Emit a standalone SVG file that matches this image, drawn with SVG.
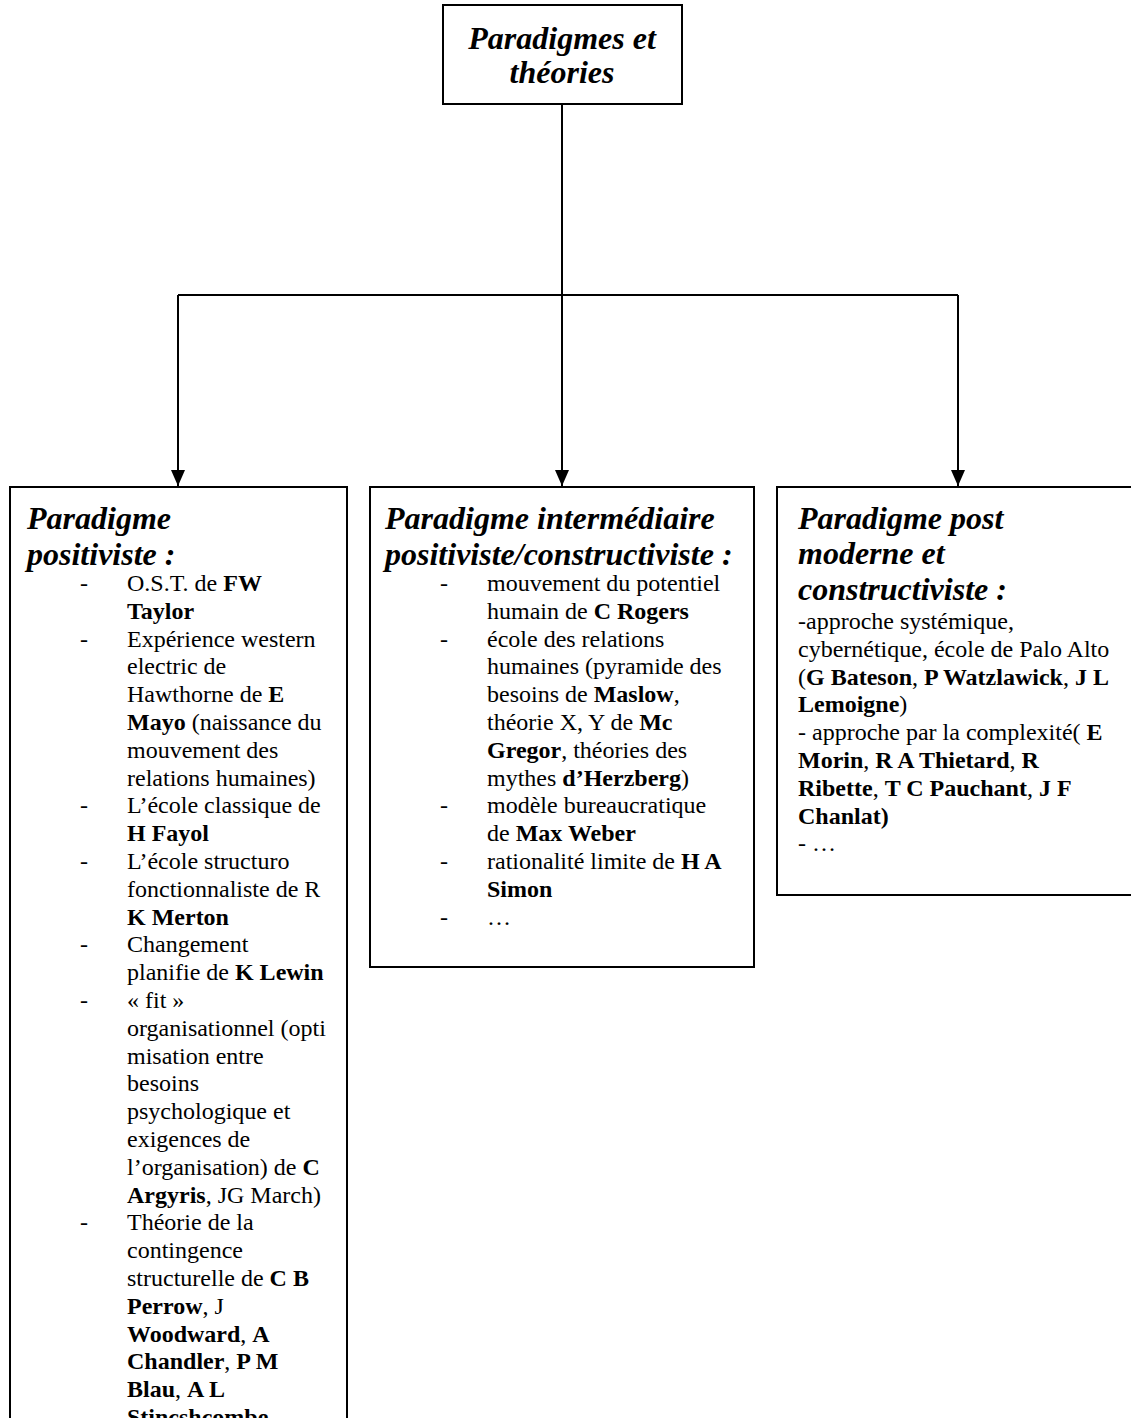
<svg xmlns="http://www.w3.org/2000/svg" width="1131" height="1418" viewBox="0 0 1131 1418">
  <style>
    text { font-family: "Liberation Serif", "Times New Roman", serif; fill: #000; }
    .title { font-size: 32px; font-weight: bold; font-style: italic; }
    .body { font-size: 24px; }
    .b { font-weight: bold; }
    .box { fill: #fff; stroke: #000; stroke-width: 2; }
    .conn { fill: none; stroke: #000; stroke-width: 2; }
  </style>
  <defs>
    <marker id="arrow" viewBox="0 0 16 14" refX="16" refY="7" markerWidth="16" markerHeight="14" markerUnits="userSpaceOnUse" orient="auto">
      <path d="M0,0 L16,7 L0,14 Z" fill="#000"/>
    </marker>
  </defs>
  <rect width="1131" height="1418" fill="#fff"/>

  <!-- connectors -->
  <g id="connectors">
    <path class="conn" d="M562,104 V295"/>
    <path class="conn" d="M178,295 H958"/>
    <path class="conn" d="M178,295 V486" marker-end="url(#arrow)"/>
    <path class="conn" d="M562,295 V486" marker-end="url(#arrow)"/>
    <path class="conn" d="M958,295 V486" marker-end="url(#arrow)"/>
  </g>

  <!-- root -->
  <g id="root">
    <rect class="box" x="443" y="5" width="239" height="99"/>
    <text class="title" x="562" y="49" text-anchor="middle">Paradigmes et</text>
    <text class="title" x="562" y="83" text-anchor="middle">théories</text>
  </g>

  <!-- positivist paradigm -->
  <g id="positiviste">
    <rect class="box" x="10" y="487" width="337" height="1000"/>
    <text class="title" x="27" y="529">Paradigme</text>
    <text class="title" x="27" y="565">positiviste :</text>
    <g class="body">
      <text x="80" y="591">-</text>
      <text x="127" y="591">O.S.T. de <tspan class="b">FW</tspan></text>
      <text x="127" y="618.8" class="b">Taylor</text>
      <text x="80" y="646.6">-</text>
      <text x="127" y="646.6">Expérience western</text>
      <text x="127" y="674.4">electric de</text>
      <text x="127" y="702.2">Hawthorne de <tspan class="b">E</tspan></text>
      <text x="127" y="730"><tspan class="b">Mayo</tspan> (naissance du</text>
      <text x="127" y="757.8">mouvement des</text>
      <text x="127" y="785.6">relations humaines)</text>
      <text x="80" y="813.4">-</text>
      <text x="127" y="813.4">L’école classique de</text>
      <text x="127" y="841.2" class="b">H Fayol</text>
      <text x="80" y="869">-</text>
      <text x="127" y="869">L’école structuro</text>
      <text x="127" y="896.8">fonctionnaliste de R</text>
      <text x="127" y="924.6" class="b">K Merton</text>
      <text x="80" y="952.4">-</text>
      <text x="127" y="952.4">Changement</text>
      <text x="127" y="980.2">planifie de <tspan class="b">K Lewin</tspan></text>
      <text x="80" y="1008">-</text>
      <text x="127" y="1008">« fit »</text>
      <text x="127" y="1035.8">organisationnel (opti</text>
      <text x="127" y="1063.6">misation entre</text>
      <text x="127" y="1091.4">besoins</text>
      <text x="127" y="1119.2">psychologique et</text>
      <text x="127" y="1147">exigences de</text>
      <text x="127" y="1174.8">l’organisation) de <tspan class="b">C</tspan></text>
      <text x="127" y="1202.6"><tspan class="b">Argyris</tspan>, JG March)</text>
      <text x="80" y="1230.4">-</text>
      <text x="127" y="1230.4">Théorie de la</text>
      <text x="127" y="1258.2">contingence</text>
      <text x="127" y="1286">structurelle de <tspan class="b">C B</tspan></text>
      <text x="127" y="1313.8"><tspan class="b">Perrow</tspan>, J</text>
      <text x="127" y="1341.6"><tspan class="b">Woodward</tspan>, <tspan class="b">A</tspan></text>
      <text x="127" y="1369.4"><tspan class="b">Chandler</tspan>, <tspan class="b">P M</tspan></text>
      <text x="127" y="1397.2"><tspan class="b">Blau</tspan>, <tspan class="b">A L</tspan></text>
      <text x="127" y="1425" class="b">Stincshcombe</text>
    </g>
  </g>

  <!-- intermediate paradigm -->
  <g id="intermediaire">
    <rect class="box" x="370" y="487" width="384" height="480"/>
    <text class="title" x="385" y="529">Paradigme intermédiaire</text>
    <text class="title" x="385" y="565">positiviste/constructiviste :</text>
    <g class="body">
      <text x="440" y="591">-</text>
      <text x="487" y="591">mouvement du potentiel</text>
      <text x="487" y="618.8">humain de <tspan class="b">C Rogers</tspan></text>
      <text x="440" y="646.6">-</text>
      <text x="487" y="646.6">école des relations</text>
      <text x="487" y="674.4">humaines (pyramide des</text>
      <text x="487" y="702.2">besoins de <tspan class="b">Maslow</tspan>,</text>
      <text x="487" y="730">théorie X, Y de <tspan class="b">Mc</tspan></text>
      <text x="487" y="757.8"><tspan class="b">Gregor</tspan>, théories des</text>
      <text x="487" y="785.6">mythes <tspan class="b">d’Herzberg</tspan>)</text>
      <text x="440" y="813.4">-</text>
      <text x="487" y="813.4">modèle bureaucratique</text>
      <text x="487" y="841.2">de <tspan class="b">Max Weber</tspan></text>
      <text x="440" y="869">-</text>
      <text x="487" y="869">rationalité limite de <tspan class="b">H A</tspan></text>
      <text x="487" y="896.8" class="b">Simon</text>
      <text x="440" y="924.6">-</text>
      <text x="487" y="924.6">…</text>
    </g>
  </g>

  <!-- postmodern / constructivist paradigm -->
  <g id="postmoderne">
    <rect class="box" x="777" y="487" width="370" height="408"/>
    <text class="title" x="798" y="529">Paradigme post</text>
    <text class="title" x="798" y="564">moderne et</text>
    <text class="title" x="798" y="600">constructiviste :</text>
    <g class="body">
      <text x="798" y="629">-approche systémique,</text>
      <text x="798" y="656.8">cybernétique, école de Palo Alto</text>
      <text x="798" y="684.6">(<tspan class="b">G Bateson</tspan>, <tspan class="b">P Watzlawick</tspan>, <tspan class="b">J L</tspan></text>
      <text x="798" y="712.4"><tspan class="b">Lemoigne</tspan>)</text>
      <text x="798" y="740.2">- approche par la complexité( <tspan class="b">E</tspan></text>
      <text x="798" y="768"><tspan class="b">Morin</tspan>, <tspan class="b">R A Thietard</tspan>, <tspan class="b">R</tspan></text>
      <text x="798" y="795.8"><tspan class="b">Ribette</tspan>, <tspan class="b">T C Pauchant</tspan>, <tspan class="b">J F</tspan></text>
      <text x="798" y="823.6" class="b">Chanlat)</text>
      <text x="798" y="851.4">- …</text>
    </g>
  </g>
</svg>
